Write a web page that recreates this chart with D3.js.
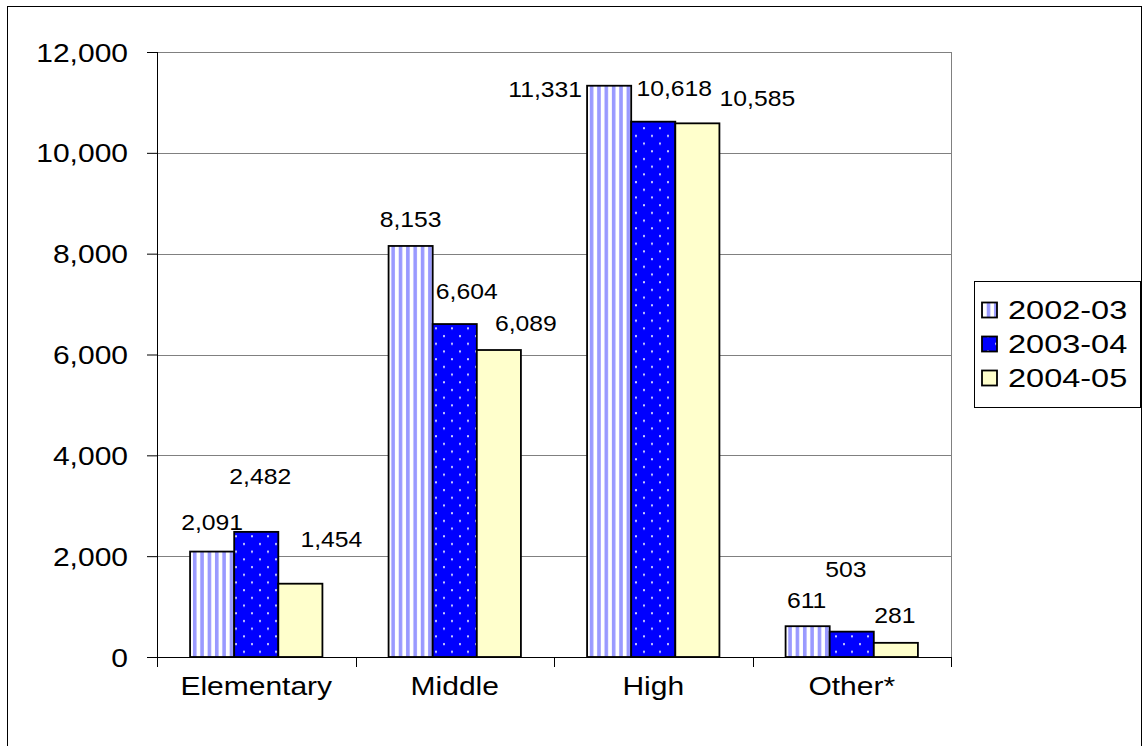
<!DOCTYPE html>
<html>
<head>
<meta charset="utf-8">
<script src="https://cdn.jsdelivr.net/npm/d3@7/dist/d3.min.js"></script>
<style>
  html, body { margin: 0; padding: 0; background: #fff; }
  svg { display: block; font-family: "Liberation Sans", Arial, sans-serif; }
</style>
</head>
<body>
<svg id="chart" width="1143" height="746"></svg>
<script>
// ---- data ----
const categories = ["Elementary", "Middle", "High", "Other*"];
const seriesNames = ["2002-03", "2003-04", "2004-05"];
const values2002 = [2091, 8153, 11331, 611];
const values2003 = [2482, 6604, 10618, 503];
const values2004 = [1454, 6089, 10585, 281];
const yTicks = [0, 2000, 4000, 6000, 8000, 10000, 12000];

// label nudges (pixels, relative to bar centre / bar top), per series per category
const labelNudge = [
  [[0, -29], [0, -27], [-64, 4], [-1, -26]],
  [[4, -56], [12, -33], [21, -33], [-6, -62]],
  [[31, -44], [27, -27], [60, -25], [-1, -28]]
];

const seriesValues = [values2002, values2003, values2004];

(function () {
const svg = d3.select("#chart");

// outer frame
svg.append("rect").attr("x", 7.5).attr("y", 6.5).attr("width", 1134).attr("height", 800)
  .attr("fill", "none").attr("stroke", "#000").attr("stroke-width", 1);

// patterns
const defs = svg.append("defs");
const stripes = defs.append("pattern").attr("id", "stripes")
  .attr("patternUnits", "userSpaceOnUse").attr("width", 7.35).attr("height", 10);
stripes.append("rect").attr("width", 7.35).attr("height", 10).attr("fill", "#fff");
stripes.append("rect").attr("x", 1.8).attr("width", 3.6).attr("height", 10).attr("fill", "#9999ff");

const dots = defs.append("pattern").attr("id", "dots")
  .attr("patternUnits", "userSpaceOnUse").attr("width", 16).attr("height", 15.4);
dots.append("rect").attr("width", 16).attr("height", 15.4).attr("fill", "#0000ff");
dots.append("rect").attr("x", 3).attr("y", 4).attr("width", 2).attr("height", 2).attr("fill", "#ccccff");
dots.append("rect").attr("x", 11).attr("y", 11.7).attr("width", 2).attr("height", 2).attr("fill", "#ccccff");

const fills = ["url(#stripes)", "url(#dots)", "#ffffcc"];

// scales
const pLeft = 157, pRight = 951, pTop = 52, pBottom = 657;
const x0 = d3.scaleBand().domain(categories).range([pLeft, pRight]).paddingInner(0).paddingOuter(0);
const x1 = d3.scaleBand().domain(seriesNames).range([0, x0.bandwidth()]).paddingInner(0).paddingOuter(0.75);
const y = d3.scaleLinear().domain([0, 12000]).range([pBottom, pTop]);

// gridlines
svg.append("g").selectAll("line").data(yTicks.filter(d => d > 0)).join("line")
  .attr("x1", pLeft).attr("x2", pRight)
  .attr("y1", d => Math.round(y(d)) + 0.5).attr("y2", d => Math.round(y(d)) + 0.5)
  .attr("stroke", "#808080").attr("stroke-width", 1);
// plot area right border
svg.append("line").attr("x1", pRight + 0.5).attr("x2", pRight + 0.5).attr("y1", pTop).attr("y2", pBottom)
  .attr("stroke", "#808080");

// bars
const rows = [];
seriesValues.forEach((vals, si) => vals.forEach((v, ci) => rows.push({ si, ci, v })));
svg.append("g").selectAll("rect").data(rows).join("rect")
  .attr("x", d => x0(categories[d.ci]) + x1(seriesNames[d.si]))
  .attr("y", d => y(d.v))
  .attr("width", x1.bandwidth())
  .attr("height", d => y(0) - y(d.v))
  .attr("fill", d => fills[d.si])
  .attr("stroke", "#000").attr("stroke-width", 1.8);

// text helper with horizontal stretch
function stretchedText(parent, x, yy, txt, size, sx, anchor) {
  parent.append("text")
    .attr("transform", `translate(${x},${yy}) scale(${sx},1)`)
    .attr("text-anchor", anchor)
    .attr("dy", "0.36em")
    .attr("font-size", size)
    .attr("fill", "#000")
    .text(txt);
}

// data labels
const fmt = d3.format(",");
const lbl = svg.append("g");
rows.forEach(d => {
  const cx = x0(categories[d.ci]) + x1(seriesNames[d.si]) + x1.bandwidth() / 2;
  const n = labelNudge[d.si][d.ci];
  stretchedText(lbl, cx + n[0], y(d.v) + n[1], fmt(d.v), 21.5, 1.15, "middle");
});

// y axis
const yAxis = svg.append("g").attr("transform", `translate(${pLeft},0)`)
  .call(d3.axisLeft(y).tickValues(yTicks).tickSize(10).tickFormat(fmt));
yAxis.select(".domain").attr("stroke", "#000").attr("d", `M0.5,${pTop}V${pBottom}`);
yAxis.selectAll(".tick line").attr("stroke", "#000");
yAxis.selectAll(".tick text")
  .attr("x", 0).attr("dy", "0.36em")
  .attr("font-size", 25).attr("font-family", "Liberation Sans, Arial, sans-serif")
  .attr("fill", "#000")
  .attr("transform", "translate(-29,0) scale(1.2,1)");

// x axis
const xAxis = svg.append("g").attr("transform", `translate(0,${pBottom})`)
  .call(d3.axisBottom(x0).tickSize(0).tickPadding(0));
xAxis.select(".domain").attr("stroke", "#000").attr("d", `M${pLeft - 10},0.5H${pRight + 1}`);
xAxis.selectAll(".tick text").remove();
// category boundary ticks
const bounds = categories.map(c => x0(c)).concat([x0.range()[1]]);
xAxis.selectAll(".btick").data(bounds).join("line").attr("class", "btick")
  .attr("x1", d => Math.round(d) + 0.5).attr("x2", d => Math.round(d) + 0.5)
  .attr("y1", 0).attr("y2", 10).attr("stroke", "#000");
// category labels
const catG = svg.append("g");
categories.forEach(c => {
  catG.append("text")
    .attr("transform", `translate(${x0(c) + x0.bandwidth() / 2},695) scale(1.2,1)`)
    .attr("text-anchor", "middle").attr("font-size", 25).attr("fill", "#000").text(c);
});

// legend
const lg = svg.append("g");
lg.append("rect").attr("x", 974.5).attr("y", 281.5).attr("width", 166).attr("height", 126)
  .attr("fill", "#fff").attr("stroke", "#000").attr("stroke-width", 1);
const legendRowY = [310, 344, 378];
seriesNames.forEach((s, i) => {
  lg.append("rect").attr("x", 982).attr("y", legendRowY[i] - 7.5).attr("width", 15).attr("height", 15)
    .attr("fill", fills[i]).attr("stroke", "#000").attr("stroke-width", 1.8);
  stretchedText(lg, 1008, legendRowY[i], s, 26, 1.25, "start");
});
})();
</script>
</body>
</html>
